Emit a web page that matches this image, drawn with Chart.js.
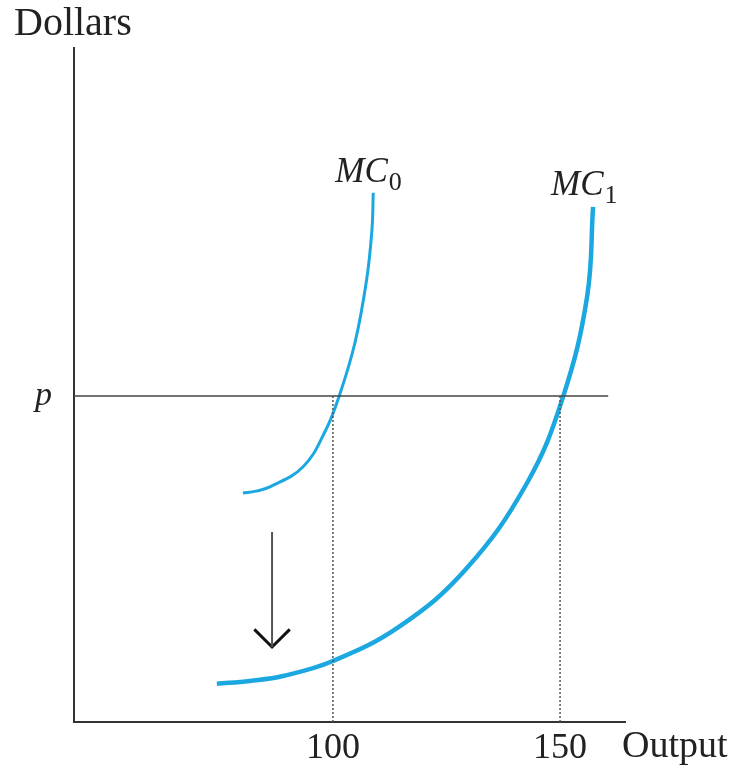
<!DOCTYPE html>
<html lang="en">
<head>
  <meta charset="UTF-8">
  <title>Marginal cost shift</title>
  <script src="https://cdn.jsdelivr.net/npm/chart.js"></script>
  <style>
    body {
      margin: 0;
      padding: 0;
      background: #fff;
    }
    .chart-box {
      position: relative;
      width: 739px;
      height: 767px;
    }
  </style>
</head>
<body>
  <div class="chart-box">
    <canvas id="mcChart"></canvas>
  </div>

  <script>
    // curve values (output, dollars; p = 10)
    const priceP = 10;
    const outputTicks = [100, 150];
    const mc0Output = [80.18, 83.04, 86.12, 93.39, 98.24, 101.32, 104.85, 107.42, 108.59, 108.88];
    const mc0Cost   = [7.02, 7.08, 7.21, 7.82, 8.90, 9.97, 11.63, 13.56, 15.09, 16.23];
    const mc1Output = [74.45, 81.72, 88.99, 100.0, 114.76, 129.30, 142.73, 150.66, 155.95, 157.27];
    const mc1Cost   = [1.17, 1.26, 1.41, 1.87, 2.94, 4.69, 7.33, 9.97, 13.04, 15.80];
    const priceLineX = [43, 160.6];
    const arrowX = 86.6;
    const arrowY = [5.83, 2.30];
    const arrowHeadX = [82.7, 86.6, 90.5];
    const arrowHeadY = [2.84, 2.30, 2.84];

    const pts = (xs, ys) => xs.map((x, i) => ({ x, y: ys[i] }));
    const blue = '#1ba8e0';
    const serif = '"Liberation Serif", "Times New Roman", serif';

    const textPlugin = {
      id: 'labels',
      afterDraw(chart) {
        const { ctx, chartArea, scales } = chart;
        ctx.save();
        ctx.fillStyle = '#222';
        ctx.textBaseline = 'alphabetic';
        ctx.textAlign = 'left';
        ctx.font = '40px ' + serif;
        ctx.fillText('Dollars', chartArea.left - 60, 35);
        ctx.font = '38px ' + serif;
        ctx.fillText('Output', chartArea.right - 3, 757);

        const mcLabel = (xs, ys, sub, dx, dy) => {
          const x = scales.x.getPixelForValue(xs[xs.length - 1]) + dx;
          const y = scales.y.getPixelForValue(ys[ys.length - 1]) + dy;
          ctx.font = 'italic 35px ' + serif;
          ctx.fillText('MC', x, y);
          const w = ctx.measureText('MC').width;
          ctx.font = '26px ' + serif;
          ctx.fillText(sub, x + w + 1, y + 8);
        };
        mcLabel(mc0Output, mc0Cost, '0', -38, -11);
        mcLabel(mc1Output, mc1Cost, '1', -42, -12);
        ctx.restore();
      }
    };

    const ctx = document.getElementById('mcChart').getContext('2d');
    new Chart(ctx, {
      type: 'scatter',
      data: {
        datasets: [
          {
            data: pts(priceLineX, [priceP, priceP]),
            borderColor: '#444', borderWidth: 1.5
          },
          {
            data: pts([100, 100], [0, priceP]),
            borderColor: '#555', borderWidth: 1.5, borderDash: [2, 2]
          },
          {
            data: pts([150, 150], [0, priceP]),
            borderColor: '#555', borderWidth: 1.5, borderDash: [2, 2]
          },
          {
            data: pts([arrowX, arrowX], arrowY),
            borderColor: '#555', borderWidth: 2
          },
          {
            data: pts(arrowHeadX, arrowHeadY),
            borderColor: '#111', borderWidth: 3
          },
          {
            data: pts(mc0Output, mc0Cost),
            borderColor: blue, borderWidth: 3, tension: 0.4
          },
          {
            data: pts(mc1Output, mc1Cost),
            borderColor: blue, borderWidth: 4.5, tension: 0.4
          }
        ]
      },
      options: {
        responsive: true,
        maintainAspectRatio: false,
        animation: false,
        showLine: true,
        elements: { point: { radius: 0, hoverRadius: 0 } },
        layout: { padding: { top: 48, right: 114, left: 0, bottom: 0 } },
        plugins: {
          legend: { display: false },
          tooltip: { enabled: false }
        },
        scales: {
          x: {
            type: 'linear',
            min: 43,
            max: 164.3,
            grid: { display: false },
            border: { display: true, color: '#333', width: 2 },
            afterBuildTicks: axis => { axis.ticks = outputTicks.map(v => ({ value: v })); },
            afterFit: axis => { axis.height = 45; },
            ticks: {
              color: '#222',
              padding: -3,
              maxRotation: 0,
              font: { family: serif, size: 36 }
            }
          },
          y: {
            type: 'linear',
            min: 0,
            max: 20.67,
            grid: { display: false },
            border: { display: true, color: '#333', width: 2 },
            afterBuildTicks: axis => { axis.ticks = [{ value: priceP }]; },
            afterFit: axis => { axis.width = 74; },
            ticks: {
              color: '#222',
              padding: 14,
              callback: () => 'p',
              font: { family: serif, size: 34, style: 'italic' }
            }
          }
        }
      },
      plugins: [textPlugin]
    });
  </script>
</body>
</html>
